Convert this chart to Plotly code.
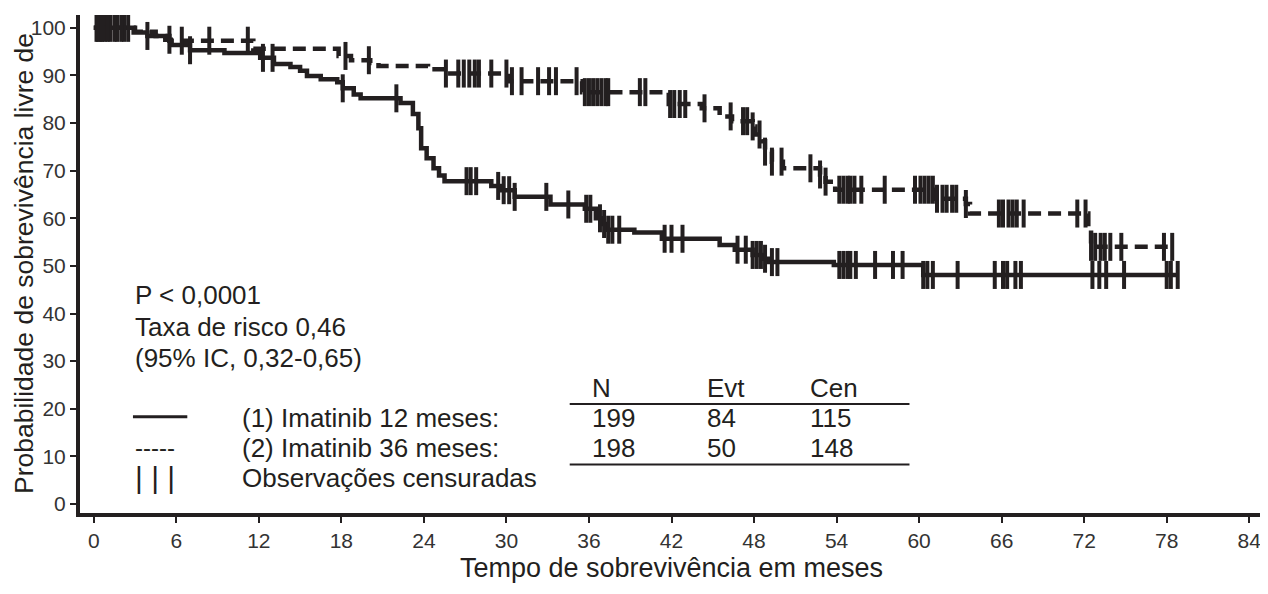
import numpy as np
import plotly.graph_objects as go

# ---------------- data ----------------
# Group 1: Imatinib 12 meses (solid) - step times (months) and survival (%)
g1_times = [0, 2.9, 3.9, 5.2, 5.6, 7.0, 9.5, 12.1, 13.1, 14.3, 15.0, 15.5, 16.5, 17.7,
            18.1, 18.9, 19.4, 22.3, 23.2, 23.6, 23.8, 24.2, 24.7, 25.1, 25.5, 28.9,
            29.6, 30.6, 33.2, 35.7, 36.5, 36.9, 37.2, 39.3, 41.3, 45.5, 46.6, 47.9,
            48.6, 49.1, 53.8, 60.3]
g1_surv = [100, 99.0, 98.3, 97.5, 96.4, 95.3, 94.7, 93.7, 92.4, 91.8, 91.0, 89.9, 89.2, 88.6,
           87.3, 86.0, 85.2, 84.2, 81.9, 78.9, 74.7, 72.6, 70.5, 69.0, 67.8, 66.8,
           65.9, 64.5, 62.9, 62.0, 60.0, 58.8, 57.6, 57.0, 55.7, 54.4, 53.4, 52.3,
           51.5, 50.8, 50.2, 48.1]
g1_end = 78.8
g1_censor = [0.2, 0.5, 0.8, 1.2, 1.7, 2.2, 3.9, 5.5, 7.0, 12.3, 13.0, 18.1, 22.0,
             27.1, 27.4, 27.8, 29.4, 29.8, 30.2, 30.6, 32.9, 34.5, 35.8, 36.1,
             36.8, 37.1, 37.4, 37.7, 38.2, 41.5, 42.0, 42.8, 46.8, 47.4, 47.9, 48.2,
             48.5, 48.8, 49.3, 49.7, 54.2, 54.5, 54.8, 55.0, 55.4, 56.8, 58.1, 58.8,
             60.3, 60.6, 61.0, 62.8, 65.5, 66.1, 66.4, 67.0, 67.4, 72.6, 73.1, 73.6,
             74.9, 78.0, 78.3, 78.8]

# Group 2: Imatinib 36 meses (dashed)
g2_times = [0, 3.0, 4.5, 5.5, 11.6, 17.8, 18.7, 20.1, 20.7, 24.3, 25.5, 30.1, 35.5,
            41.8, 44.2, 45.5, 46.4, 47.9, 48.1, 48.6, 48.8, 49.3, 50.1, 52.8, 53.2,
            53.9, 61.2, 63.4, 63.7, 72.3, 72.5]
g2_surv = [100, 99.2, 98.3, 97.3, 95.6, 94.1, 93.2, 92.6, 92.0, 91.3, 90.4, 88.8, 86.5,
           84.0, 83.1, 81.4, 80.4, 79.3, 77.6, 76.2, 74.0, 71.9, 70.5, 69.2, 67.7,
           66.0, 64.1, 63.0, 61.0, 57.6, 54.0]
g2_end = 78.5
g2_censor = [0.3, 0.6, 1.0, 1.5, 2.0, 2.5, 6.4, 8.4, 11.2, 18.3, 20.0, 25.6, 26.5,
             26.9, 27.3, 27.7, 28.0, 28.9, 30.0, 30.4, 31.1, 32.3, 33.1, 33.6, 35.1,
             35.7, 36.0, 36.3, 36.6, 36.9, 37.2, 37.4, 39.7, 40.1, 41.9, 42.2, 42.6,
             43.0, 44.4, 46.3, 47.2, 47.5, 47.9, 48.4, 48.8, 49.3, 50.0, 52.1, 52.8,
             53.2, 54.2, 54.5, 54.8, 55.0, 55.3, 55.8, 57.5, 59.7, 60.1, 60.4, 60.7,
             61.0, 61.3, 61.7, 62.0, 62.4, 62.7, 63.4, 65.8, 66.1, 66.5, 66.8, 67.1,
             67.6, 71.5, 72.1, 72.5, 72.8, 73.2, 73.5, 73.9, 74.7, 77.8, 78.4]

x_ticks = list(range(0, 85, 6))
y_ticks = list(range(0, 101, 10))

y_title = "Probabilidade de sobrevivência livre de"
x_title = "Tempo de sobrevivência em meses"
stat_lines = ["P < 0,0001", "Taxa de risco 0,46", "(95% IC, 0,32-0,65)"]
legend_labels = ["(1) Imatinib 12 meses:", "(2) Imatinib 36 meses:", "Observações censuradas"]
table_header = ["N", "Evt", "Cen"]
table_rows = [["199", "84", "115"], ["198", "50", "148"]]

# ---------------- figure ----------------
INK = "#231f20"
FONT = "Liberation Sans, Arial, sans-serif"


def surv_at(times, surv, t):
    idx = np.searchsorted(np.array(times), np.array(t), side="right") - 1
    return np.array(surv)[idx]


fig = go.Figure()

for times, surv, end, cens, dash in [
    (g1_times, g1_surv, g1_end, g1_censor, "solid"),
    (g2_times, g2_surv, g2_end, g2_censor, "13px,7px"),
]:
    xs = list(times) + [end]
    ys = list(surv) + [surv[-1]]
    fig.add_trace(go.Scatter(x=xs, y=ys, mode="lines", line=dict(color=INK, width=4.5, dash=dash, shape="hv"),
                             showlegend=False, hoverinfo="skip"))
    fig.add_trace(go.Scatter(x=cens, y=surv_at(times, surv, cens), mode="markers",
                             marker=dict(symbol="line-ns", size=20, line=dict(color=INK, width=4)),
                             showlegend=False, hoverinfo="skip"))

annotations = []
txt_font = dict(family=FONT, size=26, color=INK)

# y-axis title as a rotated annotation (keeps it clear of the tick labels)
annotations.append(dict(x=0, y=0.5, xref="paper", yref="paper", text=y_title, showarrow=False,
                        textangle=-90, xanchor="center", yanchor="middle", xshift=-56, yshift=0,
                        font=dict(family=FONT, size=26.5, color=INK)))

for i, s in enumerate(stat_lines):
    annotations.append(dict(x=2.85, y=43.8 - i * 6.6, xref="x", yref="y", text=s, showarrow=False,
                            xanchor="left", yanchor="middle", font=txt_font))

legend_y = [18.0, 11.8, 5.5]
for i, s in enumerate(legend_labels):
    annotations.append(dict(x=10.6, y=legend_y[i], xref="x", yref="y", text=s, showarrow=False,
                            xanchor="left", yanchor="middle", font=txt_font))
annotations.append(dict(x=2.85, y=legend_y[1], xref="x", yref="y", text="-----", showarrow=False,
                        xanchor="left", yanchor="middle", font=dict(family=FONT, size=24, color=INK)))
annotations.append(dict(x=2.85, y=legend_y[2], xref="x", yref="y", text="| | |", showarrow=False,
                        xanchor="left", yanchor="middle", font=dict(family=FONT, size=30, color=INK)))

col_x = [36.1, 44.4, 51.9]
for j, h in enumerate(table_header):
    annotations.append(dict(x=col_x[j], y=24.4, xref="x", yref="y", text=h, showarrow=False,
                            xanchor="left", yanchor="middle", font=txt_font))
for i, row in enumerate(table_rows):
    for j, v in enumerate(row):
        annotations.append(dict(x=col_x[j], y=legend_y[i], xref="x", yref="y", text=v, showarrow=False,
                                xanchor="left", yanchor="middle", font=txt_font))

shapes = [
    dict(type="line", xref="x", yref="y", x0=2.85, x1=6.8, y0=18.3, y1=18.3, line=dict(color=INK, width=3)),
    dict(type="line", xref="x", yref="y", x0=34.6, x1=59.3, y0=21.0, y1=21.0, line=dict(color=INK, width=2)),
    dict(type="line", xref="x", yref="y", x0=34.6, x1=59.3, y0=8.3, y1=8.3, line=dict(color=INK, width=2)),
]

# the page body has an 8px default margin; size the figure to fit the 1268x594 window
fig.update_layout(
    width=1260, height=586,
    margin=dict(l=72, r=5, t=7, b=81),
    paper_bgcolor="white", plot_bgcolor="white",
    font=dict(family=FONT, color=INK),
    annotations=annotations, shapes=shapes,
    xaxis=dict(range=[-1.0, 85.0], tickvals=x_ticks, ticktext=[str(v) for v in x_ticks],
               automargin=False,
               showgrid=False, zeroline=False, showline=True, linecolor=INK, linewidth=4,
               ticks="outside", ticklen=6, tickwidth=2, tickcolor=INK,
               tickfont=dict(family=FONT, size=21, color="#333333"),
               title=dict(text=x_title, standoff=8,
                          font=dict(family=FONT, size=27, color=INK))),
    yaxis=dict(range=[-1.9, 102.7], tickvals=y_ticks, ticktext=[str(v) for v in y_ticks],
               automargin=False,
               showgrid=False, zeroline=False, showline=True, linecolor=INK, linewidth=4,
               ticks="outside", ticklen=6, tickwidth=2, tickcolor=INK,
               tickfont=dict(family=FONT, size=21, color="#333333")),
)

fig.write_html("out.html")
